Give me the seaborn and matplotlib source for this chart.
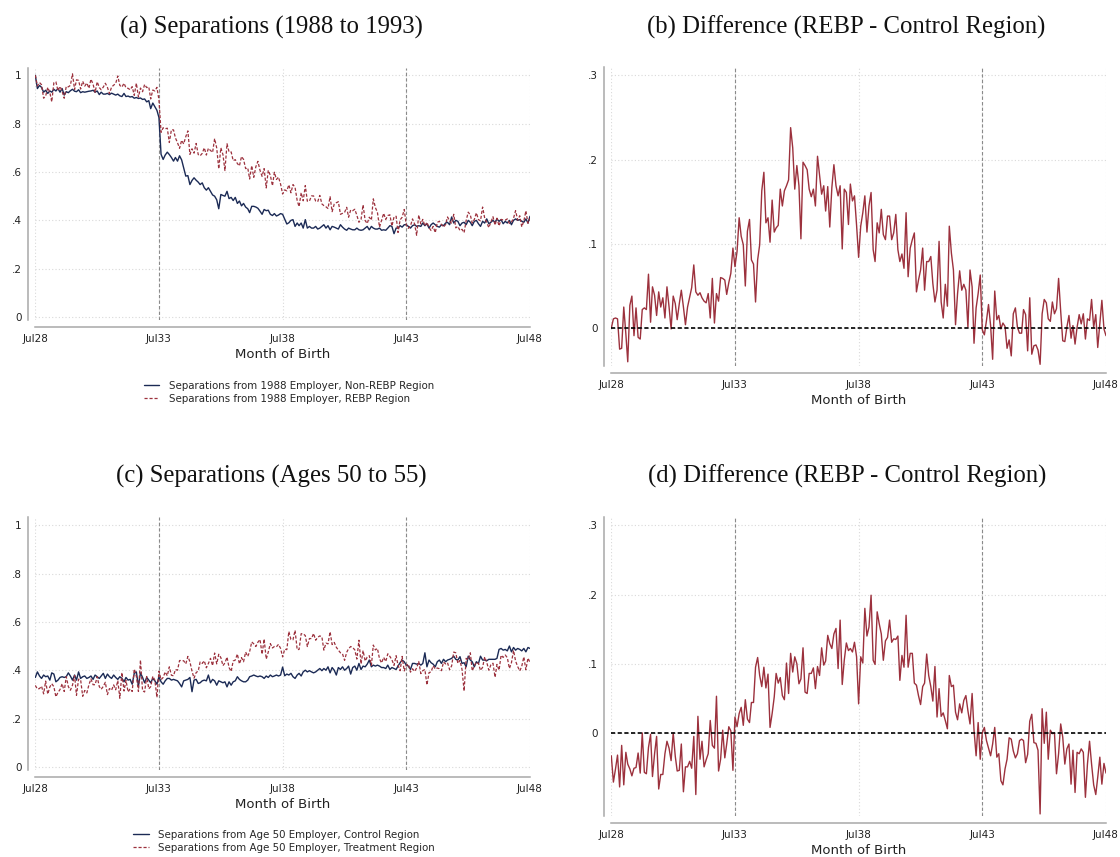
import numpy as np
import pandas as pd
import matplotlib
matplotlib.use("Agg")
import matplotlib.pyplot as plt
import matplotlib.dates as mdates
import seaborn as sns

# month of birth, Jul 1928 .. Jul 1948
birth_month = pd.date_range("1928-07-01", "1948-07-01", freq="MS")
tick_months = pd.to_datetime(["1928-07-01", "1933-07-01", "1938-07-01", "1943-07-01", "1948-07-01"])
cutoffs = pd.to_datetime(["1933-07-01", "1943-07-01"])

# (a) separations 1988-1993, non-REBP (control) region
sep88_control = [
    1.000, 0.945, 0.958, 0.950, 0.930, 0.938, 0.925, 0.935, 0.930, 0.942,
    0.935, 0.945, 0.930, 0.945, 0.918, 0.932, 0.928, 0.936, 0.942, 0.934,
    0.932, 0.940, 0.928, 0.932, 0.930, 0.932, 0.934, 0.935, 0.938, 0.930,
    0.935, 0.920, 0.930, 0.922, 0.922, 0.925, 0.920, 0.926, 0.922, 0.918,
    0.922, 0.915, 0.912, 0.925, 0.912, 0.914, 0.910, 0.912, 0.905, 0.908,
    0.904, 0.906, 0.900, 0.902, 0.890, 0.895, 0.862, 0.885, 0.870, 0.855,
    0.825, 0.673, 0.652, 0.670, 0.682, 0.672, 0.660, 0.645, 0.660, 0.645,
    0.667, 0.650, 0.617, 0.583, 0.585, 0.548, 0.565, 0.576, 0.566, 0.558,
    0.548, 0.555, 0.535, 0.525, 0.535, 0.520, 0.505, 0.500, 0.485, 0.448,
    0.507, 0.503, 0.500, 0.520, 0.490, 0.495, 0.482, 0.495, 0.470, 0.480,
    0.460, 0.470, 0.455, 0.448, 0.432, 0.458, 0.458, 0.455, 0.450, 0.438,
    0.425, 0.445, 0.440, 0.442, 0.425, 0.420, 0.428, 0.418, 0.422, 0.428,
    0.425, 0.405, 0.385, 0.390, 0.400,
    0.403, 0.375, 0.389, 0.378, 0.389, 0.368, 0.403, 0.368, 0.375, 0.368,
    0.368, 0.375, 0.364, 0.368, 0.375, 0.382, 0.368, 0.378, 0.361, 0.375,
    0.372, 0.368, 0.364, 0.382, 0.372, 0.364, 0.359, 0.368, 0.364, 0.361,
    0.361, 0.368, 0.361, 0.359, 0.361, 0.368, 0.375, 0.361, 0.375, 0.368,
    0.364, 0.364, 0.368, 0.359, 0.361, 0.359, 0.368, 0.378, 0.375, 0.345,
    0.368, 0.368, 0.378, 0.372, 0.382,
    0.382, 0.375, 0.368, 0.378, 0.382, 0.375, 0.378, 0.375, 0.389, 0.378,
    0.386, 0.368, 0.382, 0.389, 0.382, 0.375, 0.372, 0.382, 0.378, 0.389,
    0.392, 0.382, 0.414, 0.389, 0.400, 0.396, 0.378, 0.389, 0.392, 0.382,
    0.400, 0.392, 0.378, 0.396, 0.400, 0.386, 0.375, 0.396, 0.389, 0.406,
    0.386, 0.392, 0.400, 0.392, 0.406, 0.396, 0.403, 0.386, 0.396, 0.389,
    0.400, 0.382, 0.400, 0.406, 0.400, 0.403, 0.396, 0.392, 0.406, 0.389,
    0.417,
]

# (b) difference REBP - control, separations 1988-1993
sep88_diff = [
    0.000, 0.011, 0.012, 0.011, -0.025, -0.024, 0.025, -0.007, -0.040, 0.027,
    0.038, -0.009, 0.024, -0.011, -0.013, 0.022, 0.024, 0.022, 0.064, 0.007,
    0.049, 0.039, 0.015, 0.043, 0.025, 0.036, 0.012, 0.049, 0.025, -0.001,
    0.038, 0.029, 0.010, 0.029, 0.045, 0.025, 0.004, 0.025, 0.037, 0.048,
    0.075, 0.043, 0.039, 0.042, 0.036, 0.032, 0.030, 0.041, 0.012, 0.059,
    0.006, 0.041, 0.032, 0.060, 0.059, 0.057, 0.040, 0.054, 0.065, 0.095,
    0.073, 0.091, 0.131, 0.109, 0.099, 0.050, 0.115, 0.129, 0.081, 0.076,
    0.031, 0.081, 0.099, 0.163, 0.185, 0.125, 0.131, 0.102, 0.152, 0.114,
    0.119, 0.122, 0.165, 0.145, 0.163, 0.169, 0.176, 0.238, 0.214, 0.165,
    0.193, 0.169, 0.106, 0.197, 0.193, 0.188, 0.165, 0.156, 0.165, 0.145,
    0.204, 0.182, 0.159, 0.169, 0.139, 0.168, 0.120, 0.167, 0.194, 0.169,
    0.157, 0.169, 0.094, 0.165, 0.161, 0.123, 0.171, 0.151, 0.157, 0.122,
    0.084, 0.121, 0.137, 0.157, 0.114, 0.145, 0.161, 0.093, 0.079, 0.125,
    0.113, 0.141, 0.111, 0.105, 0.133, 0.133, 0.105, 0.113, 0.135, 0.093,
    0.079, 0.088, 0.071, 0.137, 0.061, 0.095, 0.105, 0.113, 0.043, 0.057,
    0.069, 0.095, 0.045, 0.079, 0.079, 0.085, 0.053, 0.031, 0.045, 0.103,
    0.031, 0.012, 0.052, 0.026, 0.121, 0.089, 0.069, 0.004, 0.041, 0.068,
    0.045, 0.052, 0.045, 0.001, 0.069, 0.049, -0.018, 0.024, 0.041, 0.063,
    -0.002, -0.008, 0.009, 0.028, 0.003, -0.037, 0.044, 0.010, 0.015, -0.001,
    0.006, 0.002, -0.024, -0.014, -0.033, 0.017, 0.024, 0.001, -0.006, -0.006,
    0.022, 0.016, -0.027, 0.036, -0.031, -0.021, -0.020, -0.026, -0.043, 0.017,
    0.034, 0.030, 0.011, 0.008, 0.031, 0.017, 0.023, 0.059, 0.020, -0.015,
    -0.016, 0.001, 0.015, -0.012, 0.003, -0.019, 0.001, 0.016, 0.005, 0.017,
    -0.013, 0.011, 0.009, 0.034, 0.001, 0.016, -0.023, 0.005, 0.033, -0.001,
    -0.009,
]

# (c) separations ages 50-55, control region
sep50_control = [
    0.371, 0.394, 0.377, 0.367, 0.381, 0.374, 0.377, 0.360, 0.390, 0.385,
    0.353, 0.360, 0.371, 0.374, 0.371, 0.374, 0.390, 0.377, 0.360, 0.381,
    0.360, 0.394, 0.367, 0.374, 0.377, 0.367, 0.371, 0.377, 0.363, 0.381,
    0.374, 0.367, 0.377, 0.388, 0.367, 0.385, 0.374, 0.367, 0.381, 0.371,
    0.363, 0.374, 0.367, 0.353, 0.371, 0.360, 0.363, 0.343, 0.388, 0.394,
    0.335, 0.390, 0.371, 0.349, 0.371, 0.360, 0.349, 0.367, 0.357, 0.343,
    0.374, 0.353, 0.343, 0.357, 0.367, 0.367, 0.360, 0.363, 0.360, 0.357,
    0.346, 0.332, 0.357, 0.360, 0.363, 0.371, 0.312, 0.360, 0.363, 0.346,
    0.349, 0.357, 0.360, 0.357, 0.381, 0.349, 0.363, 0.357, 0.339, 0.357,
    0.353, 0.349, 0.353, 0.332, 0.353, 0.339, 0.353, 0.357, 0.374, 0.363,
    0.357, 0.353, 0.353, 0.360, 0.374, 0.377, 0.381, 0.377, 0.374, 0.377,
    0.374, 0.367, 0.377, 0.371, 0.381, 0.374, 0.377, 0.381, 0.377, 0.381,
    0.414, 0.378, 0.385, 0.381, 0.388, 0.374, 0.367, 0.381, 0.388, 0.377,
    0.394, 0.401, 0.394, 0.399, 0.394, 0.390, 0.394, 0.401, 0.408, 0.399,
    0.408, 0.401, 0.415, 0.390, 0.412, 0.401, 0.381, 0.412, 0.404, 0.415,
    0.401, 0.408, 0.418, 0.385, 0.412, 0.418, 0.401, 0.429, 0.404, 0.418,
    0.415, 0.426, 0.443, 0.415, 0.422, 0.418, 0.422, 0.418, 0.412, 0.412,
    0.408, 0.422, 0.404, 0.412, 0.408, 0.404, 0.418, 0.432, 0.443, 0.436,
    0.422, 0.418, 0.404, 0.429, 0.429, 0.426, 0.429, 0.422, 0.429, 0.473,
    0.415, 0.443, 0.432, 0.426, 0.415, 0.436, 0.443, 0.429, 0.446, 0.436,
    0.443, 0.446, 0.450, 0.459, 0.446, 0.443, 0.457, 0.429, 0.432, 0.415,
    0.459, 0.443, 0.436, 0.415, 0.436, 0.429, 0.459, 0.443, 0.443, 0.440,
    0.446, 0.446, 0.446, 0.446, 0.450, 0.487, 0.491, 0.484, 0.487, 0.481,
    0.501, 0.477, 0.495, 0.484, 0.491, 0.487, 0.481, 0.491, 0.477, 0.495,
    0.491,
]

# (d) difference treatment - control, separations ages 50-55
sep50_diff = [
    -0.033, -0.071, -0.052, -0.032, -0.078, -0.018, -0.075, -0.028, -0.045, -0.052,
    -0.062, -0.051, -0.050, -0.029, -0.058, 0.000, -0.057, -0.059, -0.021, -0.002,
    -0.063, -0.030, -0.005, -0.081, -0.060, -0.060, -0.030, -0.012, -0.022, -0.040,
    0.000, -0.034, -0.055, -0.054, -0.016, -0.085, -0.049, -0.049, -0.041, -0.051,
    -0.005, -0.089, 0.024, -0.038, -0.012, -0.049, -0.039, -0.030, 0.018, -0.018,
    -0.022, 0.053, -0.055, -0.038, 0.004, -0.036, -0.016, 0.009, 0.003, -0.054,
    0.023, 0.009, 0.028, 0.037, 0.011, 0.048, 0.020, 0.015, 0.044, 0.044,
    0.095, 0.109, 0.083, 0.067, 0.095, 0.065, 0.085, 0.008, 0.028, 0.052,
    0.086, 0.072, 0.080, 0.054, 0.048, 0.101, 0.057, 0.115, 0.088, 0.110,
    0.100, 0.071, 0.078, 0.123, 0.059, 0.057, 0.086, 0.086, 0.094, 0.064,
    0.096, 0.083, 0.123, 0.098, 0.104, 0.141, 0.129, 0.122, 0.143, 0.151,
    0.093, 0.163, 0.070, 0.105, 0.130, 0.119, 0.122, 0.117, 0.131, 0.110,
    0.042, 0.110, 0.101, 0.180, 0.140, 0.153, 0.199, 0.105, 0.099, 0.175,
    0.158, 0.143, 0.105, 0.133, 0.138, 0.163, 0.131, 0.136, 0.135, 0.140,
    0.076, 0.112, 0.095, 0.170, 0.095, 0.115, 0.115, 0.072, 0.069, 0.054,
    0.041, 0.067, 0.072, 0.114, 0.083, 0.067, 0.046, 0.096, 0.023, 0.064,
    0.024, 0.029, 0.018, 0.006, 0.083, 0.067, 0.069, 0.030, 0.019, 0.042,
    0.029, 0.047, 0.054, 0.032, 0.013, 0.057, 0.004, -0.033, 0.015, -0.038,
    0.000, 0.008, -0.011, -0.022, -0.033, -0.016, 0.008, -0.035, -0.030, -0.069,
    -0.075, -0.052, -0.038, -0.007, -0.009, -0.026, -0.036, -0.030, -0.011, -0.009,
    -0.011, -0.043, -0.031, 0.017, 0.027, -0.014, -0.015, -0.025, -0.117, 0.035,
    -0.015, 0.030, -0.038, 0.004, -0.001, 0.000, -0.059, -0.030, 0.013, -0.006,
    -0.045, -0.023, -0.016, -0.074, -0.025, -0.086, -0.028, -0.030, -0.023, -0.028,
    -0.093, -0.045, -0.012, -0.045, -0.075, -0.089, -0.064, -0.035, -0.074, -0.044,
    -0.058,
]

df88 = pd.DataFrame({"month": birth_month, "control": sep88_control, "diff": sep88_diff})
df88["treat"] = df88["control"] + df88["diff"]
df50 = pd.DataFrame({"month": birth_month, "control": sep50_control, "diff": sep50_diff})
df50["treat"] = df50["control"] + df50["diff"]

titles = ["(a) Separations (1988 to 1993)", "(b) Difference (REBP - Control Region)",
          "(c) Separations (Ages 50 to 55)", "(d) Difference (REBP - Control Region)"]
legend88 = ["Separations from 1988 Employer, Non-REBP Region",
            "Separations from 1988 Employer, REBP Region"]
legend50 = ["Separations from Age 50 Employer, Control Region",
            "Separations from Age 50 Employer, Treatment Region"]

NAVY = "#1b2a55"
RED = "#9c313d"
GRID = "#d9d9d9"
SPINE = "#a8a8a8"

sns.set_style("white")
plt.rcParams["font.family"] = ["DejaVu Sans"]

W, H = 1120, 857
fig = plt.figure(figsize=(W / 100, H / 100), dpi=100)


def add_ax(x0, x1, ytop, ybot):
    return fig.add_axes([x0 / W, 1 - ybot / H, (x1 - x0) / W, (ybot - ytop) / H])


def style_ax(ax, ylim, yticks, ylabels):
    ax.set_xlim(birth_month[0], birth_month[-1])
    ax.set_ylim(*ylim)
    ax.set_xticks(tick_months)
    ax.xaxis.set_major_formatter(mdates.DateFormatter("%b%y"))
    ax.set_yticks(yticks)
    ax.set_yticklabels(ylabels)
    ax.grid(True, color=GRID, linestyle=(0, (1, 2)), linewidth=0.8)
    for v in cutoffs:
        ax.axvline(v, color="#8a8a8a", linestyle=(0, (3, 2)), linewidth=0.8, zorder=1)
    for s in ["top", "right"]:
        ax.spines[s].set_visible(False)
    for s in ["left", "bottom"]:
        ax.spines[s].set_color(SPINE)
        ax.spines[s].set_linewidth(1.1)
        ax.spines[s].set_position(("outward", 5))
    ax.tick_params(axis="both", labelsize=7.5, length=3, width=0.8, color=SPINE,
                   colors="#222222", pad=2)
    ax.tick_params(axis="both", color=SPINE)
    ax.set_xlabel("Month of Birth", fontsize=9.5, labelpad=3, color="#222222")
    ax.set_ylabel("")


# (a)
ax_a = add_ax(35.3, 530, 68, 320)
sns.lineplot(data=df88, x="month", y="control", ax=ax_a, color=NAVY, linewidth=1.0, label=legend88[0])
sns.lineplot(data=df88, x="month", y="treat", ax=ax_a, color=RED, linewidth=0.9,
             linestyle=(0, (2.5, 1.5)), label=legend88[1])
style_ax(ax_a, (-0.012, 1.03), [0, 0.2, 0.4, 0.6, 0.8, 1], ["0", ".2", ".4", ".6", ".8", "1"])
ax_a.legend(loc="center", bbox_to_anchor=(289 / W, 1 - 392.5 / H), bbox_transform=fig.transFigure,
            frameon=False, fontsize=7.4, handlelength=1.5, handletextpad=0.9, labelspacing=0.3)

# (b)
ax_b = add_ax(611.3, 1106, 67, 366)
sns.lineplot(data=df88, x="month", y="diff", ax=ax_b, color=RED, linewidth=1.0)
ax_b.axhline(0, color="black", linestyle=(0, (2.5, 1.5)), linewidth=1.2, zorder=3)
style_ax(ax_b, (-0.045, 0.31), [0, 0.1, 0.2, 0.3], ["0", ".1", ".2", ".3"])

# (c)
ax_c = add_ax(35.3, 530, 517, 770)
sns.lineplot(data=df50, x="month", y="control", ax=ax_c, color=NAVY, linewidth=1.0, label=legend50[0])
sns.lineplot(data=df50, x="month", y="treat", ax=ax_c, color=RED, linewidth=0.9,
             linestyle=(0, (2.5, 1.5)), label=legend50[1])
style_ax(ax_c, (-0.012, 1.035), [0, 0.2, 0.4, 0.6, 0.8, 1], ["0", ".2", ".4", ".6", ".8", "1"])
ax_c.legend(loc="center", bbox_to_anchor=(284 / W, 1 - 841.5 / H), bbox_transform=fig.transFigure,
            frameon=False, fontsize=7.4, handlelength=1.5, handletextpad=0.9, labelspacing=0.3)

# (d)
ax_d = add_ax(611.3, 1106, 517, 816)
sns.lineplot(data=df50, x="month", y="diff", ax=ax_d, color=RED, linewidth=1.0)
ax_d.axhline(0, color="black", linestyle=(0, (2.5, 1.5)), linewidth=1.2, zorder=3)
style_ax(ax_d, (-0.12, 0.312), [0, 0.1, 0.2, 0.3], ["0", ".1", ".2", ".3"])

# panel titles
title_pos = [(271, 27), (846, 27), (271, 476), (847, 476)]
for t, (tx, ty) in zip(titles, title_pos):
    fig.text(tx / W, 1 - ty / H, t, ha="center", va="center", fontsize=17.8,
             family=["Liberation Serif", "DejaVu Serif"], color="#111111")

fig.savefig("out.png", dpi=100)
